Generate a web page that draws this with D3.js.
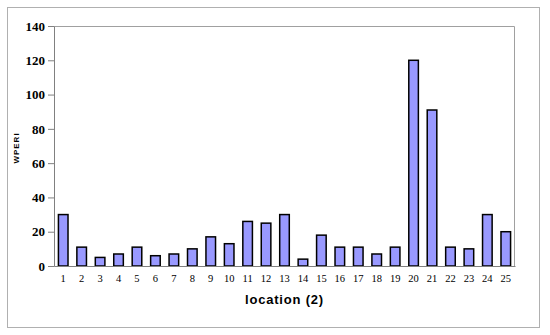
<!DOCTYPE html>
<meta charset="utf-8">
<head>
  <script src="https://d3js.org/d3.v7.min.js"></script>
  <style>
    body { margin: 0; background: white; }
  </style>
</head>
<body>
  <div id="chart"></div>
  <script>
    var locations = d3.range(1, 26).map(String);
    var wperi = [30, 11, 5, 7, 11, 6, 7, 10, 17, 13, 26, 25, 30, 4, 18, 11, 11, 7, 11, 120, 91, 11, 10, 30, 20];
    var yTicks = [0, 20, 40, 60, 80, 100, 120, 140];

    var serif = "'Liberation Serif', 'Times New Roman', serif";
    var sans = "'Liberation Sans', Arial, sans-serif";

    var margin = { top: 26, right: 35, bottom: 69, left: 54 },
      width = 550 - margin.left - margin.right,
      height = 335 - margin.top - margin.bottom;

    var root = d3.select("#chart")
      .append("svg")
      .attr("width", 550)
      .attr("height", 335);

    // outer frame
    root.append("rect")
      .attr("x", 7.5).attr("y", 7.5)
      .attr("width", 532).attr("height", 320)
      .attr("fill", "white")
      .attr("stroke", "#b0b0b0")
      .attr("stroke-width", 1);

    var svg = root.append("g")
      .attr("transform", "translate(" + margin.left + "," + margin.top + ")");

    var x = d3.scaleBand()
      .domain(locations)
      .range([0, width])
      .paddingInner(0.48)
      .paddingOuter(0.24);

    var y = d3.scaleLinear()
      .domain([0, 140])
      .range([height, 0]);

    // plot area border (top and right)
    svg.append("path")
      .attr("d", "M0.5,0.5H" + (width - 0.5) + "V" + height)
      .attr("fill", "none")
      .attr("stroke", "#a0a0a0");

    svg.selectAll(".bar")
      .data(wperi)
      .enter()
      .append("rect")
      .attr("class", "bar")
      .attr("x", function (d, i) { return x(locations[i]); })
      .attr("y", function (d) { return y(d); })
      .attr("width", x.bandwidth())
      .attr("height", function (d) { return height - y(d); })
      .attr("fill", "#9999ff")
      .attr("stroke", "#000")
      .attr("stroke-width", 1.5);

    var yAxis = svg.append("g")
      .call(d3.axisLeft(y).tickValues(yTicks).tickSize(6).tickPadding(3))
      .attr("font-family", serif);
    yAxis.select(".domain").attr("stroke", "#808080");
    yAxis.selectAll(".tick line").attr("stroke", "#808080");
    yAxis.selectAll("text")
      .style("font-family", serif)
      .style("font-weight", "bold")
      .style("font-size", "13px")
      .attr("fill", "#000");

    var xAxis = svg.append("g")
      .attr("transform", "translate(0," + height + ")")
      .call(d3.axisBottom(x).tickSize(0).tickPadding(9))
      .attr("font-family", serif);
    xAxis.select(".domain").attr("stroke", "#808080");
    xAxis.selectAll("text")
      .style("font-family", serif)
      .style("font-size", "10.5px")
      .attr("fill", "#000");

    root.append("text")
      .attr("x", margin.left + width / 2)
      .attr("y", 304)
      .attr("text-anchor", "middle")
      .style("font-family", sans)
      .style("font-weight", "bold")
      .style("font-size", "13px")
      .style("letter-spacing", "0.8px")
      .text("location (2)");

    root.append("text")
      .attr("transform", "translate(19,148) rotate(-90)")
      .attr("text-anchor", "middle")
      .style("font-family", sans)
      .style("font-weight", "bold")
      .style("font-size", "8px")
      .style("letter-spacing", "1px")
      .text("WPERI");
  </script>
</body>
